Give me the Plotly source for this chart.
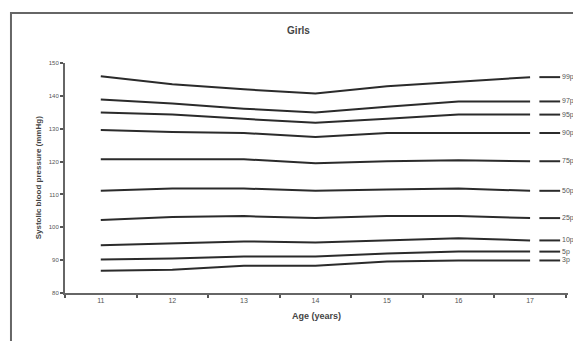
import plotly.graph_objects as go

ages = [11, 12, 13, 14, 15, 16, 17]
age_labels = ["11", "12", "13", "14", "15", "16", "17"]
percentile_labels = ["99p", "97p", "95p", "90p", "75p", "50p", "25p", "10p", "5p", "3p"]
p99 = [146.0, 143.5, 142.0, 140.7, 142.9, 144.4, 145.7]
p97 = [138.9, 137.7, 136.1, 134.9, 136.7, 138.3, 138.3]
p95 = [134.9, 134.3, 133.0, 131.8, 133.0, 134.3, 134.3]
p90 = [129.6, 129.0, 128.7, 127.5, 128.7, 128.7, 128.7]
p75 = [120.7, 120.7, 120.7, 119.5, 120.1, 120.4, 120.1]
p50 = [111.1, 111.8, 111.8, 111.1, 111.5, 111.8, 111.1]
p25 = [102.2, 103.1, 103.4, 102.8, 103.4, 103.4, 102.8]
p10 = [94.5, 95.1, 95.7, 95.4, 96.0, 96.7, 96.0]
p5 = [90.2, 90.5, 91.1, 91.1, 92.0, 92.6, 92.6]
p3 = [86.8, 87.1, 88.3, 88.3, 89.6, 89.9, 89.9]
y_ticks = [80, 90, 100, 110, 120, 130, 140, 150]

series = [p99, p97, p95, p90, p75, p50, p25, p10, p5, p3]
line_color = "#2b2b2b"
text_color = "#555555"
font_family = "Liberation Sans, Arial, sans-serif"

fig = go.Figure()
shapes = []
annotations = []
for name, vals in zip(percentile_labels, series):
    fig.add_trace(go.Scatter(x=ages, y=vals, mode="lines", name=name,
                             line=dict(color=line_color, width=2), showlegend=False))
    shapes.append(dict(type="line", xref="x", yref="y", x0=17.13, x1=17.42,
                       y0=vals[-1], y1=vals[-1], line=dict(color=line_color, width=2)))
    annotations.append(dict(x=17.42, y=vals[-1], xref="x", yref="y", text=name,
                            showarrow=False, xanchor="left", yanchor="middle",
                            font=dict(size=7, color=text_color, family=font_family)))

annotations.append(dict(x=-0.053, y=0.5, xref="paper", yref="paper",
                        text="<b>Systolic blood pressure (mmHg)</b>", textangle=-90,
                        showarrow=False, xanchor="center", yanchor="middle",
                        font=dict(size=8, color="#444", family=font_family)))

# outer frame (left and top edges visible, the rest runs off the picture)
shapes.append(dict(type="rect", xref="paper", yref="paper", x0=-0.1074, x1=1.1,
                   y0=-0.3, y1=1.217, line=dict(color="#666", width=2), layer="below"))

fig.update_layout(
    width=581, height=341,
    margin=dict(l=57, r=21, t=55, b=56),
    paper_bgcolor="white", plot_bgcolor="white",
    title=dict(text="<b>Girls</b>", x=0.5, xref="container", xanchor="center",
               y=1 - 22 / 341, yanchor="middle",
               font=dict(size=10, color="#444", family=font_family)),
    shapes=shapes, annotations=annotations,
    xaxis=dict(range=[10.5, 17.53], tickvals=ages, ticktext=age_labels, ticks="",
               automargin=False,
               showgrid=False, zeroline=False, showline=True, linecolor="#666", linewidth=2,
               tickfont=dict(size=7, color=text_color, family=font_family),
               minor=dict(tick0=10.5, dtick=1, ticks="outside", ticklen=3,
                          tickcolor="#555", tickwidth=2, showgrid=False),
               title=dict(text="<b>Age (years)</b>", standoff=9,
                          font=dict(size=9, color="#444", family=font_family))),
    yaxis=dict(range=[80, 150], tickvals=y_ticks, ticks="outside", ticklen=3,
               tickcolor="#555", tickwidth=2, automargin=False,
               showgrid=False, zeroline=False, showline=True, linecolor="#666", linewidth=2,
               tickfont=dict(size=6, color=text_color, family=font_family)),
)

fig.write_html("out.html")
